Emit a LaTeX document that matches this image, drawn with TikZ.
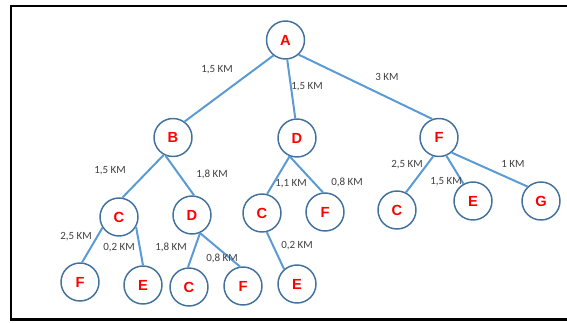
\documentclass[tikz,border=0pt]{standalone}
\usepackage{fontspec}
\setmainfont{Carlito}
\newfontfamily\cityfont{Liberation Sans}

\definecolor{ringblue}{HTML}{41719C}
\definecolor{roadblue}{HTML}{5B9BD5}
\definecolor{kmgray}{HTML}{404040}

\tikzset{
  city/.style={circle,draw=ringblue,line width=1.1pt,fill=white,
    minimum size=28.5pt,inner sep=0pt,text=red,
    font=\cityfont\bfseries\fontsize{11}{12}\selectfont},
  km/.style={text=kmgray,inner sep=0pt,font=\fontsize{8.25}{9}\selectfont},
  road/.style={draw=roadblue,line width=1.5pt}
}

\begin{document}
\begin{tikzpicture}[x=0.75pt,y=-0.75pt]
   \useasboundingbox (0,0) rectangle (567,322);
   \draw[line width=1.9pt] (567,6) -- (11,6) -- (11,319.5) -- (567,319.5);

   % level 0 and 1
   \node[city] (a) at (285.5,40) {A};
   \node[city] (b) at (173,137.5) {B};
   \node[city] (d) at (297,138) {D};
   \node[city] (f) at (439,137.5) {F};
   % level 2
   \node[city] (bc) at (119,217) {C};
   \node[city] (bd) at (192,215) {D};
   \node[city] (dc) at (262,213) {C};
   \node[city] (df) at (325,212) {F};
   \node[city] (fc) at (397,210) {C};
   \node[city] (fe) at (473,201) {E};
   \node[city] (fg) at (541,201) {G};
   % level 3
   \node[city] (bcf) at (80,282) {F};
   \node[city] (bce) at (143,285) {E};
   \node[city] (bdc) at (189,287) {C};
   \node[city] (bdf) at (243,286) {F};
   \node[city] (dce) at (297,284) {E};

   \draw[road] (a.-128) -- (b.54);
   \draw[road] (a.-85) -- (d.95);
   \draw[road] (a.-48) -- (f.110);
   \draw[road] (b.-118) -- (bc.80);
   \draw[road] (b.-112) -- (bd.84);
   \draw[road] (d.-112) -- (dc.75);
   \draw[road] (d.-112) -- (df.96);
   \draw[road] (f.-107) -- (fc.63);
   \draw[road] (f.-68) -- (fe.119);
   \draw[road] (f.-50) -- (fg.133);
   \draw[road] (bc.-147) -- (bcf.84);
   \draw[road] (bc.-30) -- (bce.90);
   \draw[road] (bd.-66) -- (bdc.93);
   \draw[road] (bd.-66) -- (bdf.99);
   \draw[road] (dc.-76) -- (dce.131);

   % distances
   \node[km] (kab) at (217,70) {1,5 KM};
   \node[km] (kad) at (307,87) {1,5 KM};
   \node[km] (kaf) at (387,77) {3 KM};
   \node[km] (kbc) at (110,171) {1,5 KM};
   \node[km] (kbd) at (212,174) {1,8 KM};
   \node[km] (kdc) at (291,184) {1,1 KM};
   \node[km] (kdf) at (347,182) {0,8 KM};
   \node[km] (kfc) at (407,165) {2,5 KM};
   \node[km] (kfe) at (446,182) {1,5 KM};
   \node[km] (kfg) at (513,164) {1 KM};
   \node[km] (kbcf) at (76,237) {2,5 KM};
   \node[km] (kbce) at (119,248) {0,2 KM};
   \node[km] (kbdc) at (171,247) {1,8 KM};
   \node[km] (kbdf) at (222,258) {0,8 KM};
   \node[km] (kdce) at (297,246) {0,2 KM};
\end{tikzpicture}
\end{document}
